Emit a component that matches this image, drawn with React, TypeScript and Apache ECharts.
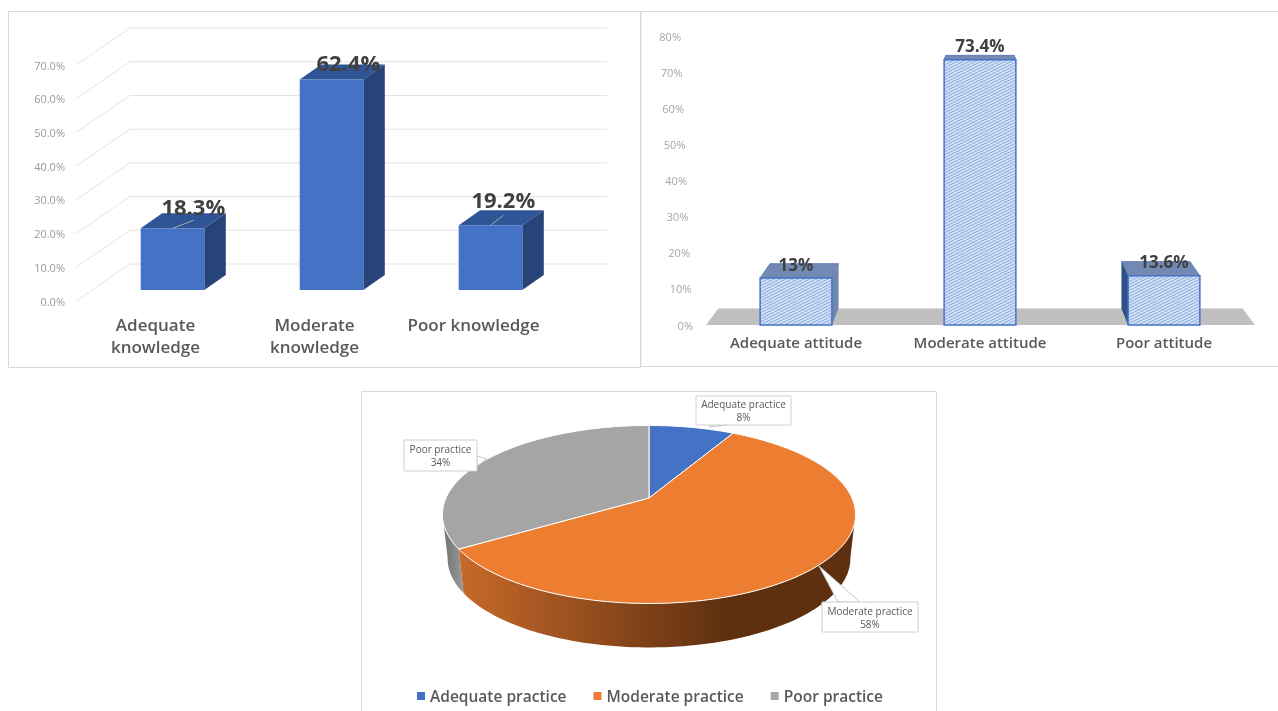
import React, { useEffect, useRef } from "react";
import * as echarts from "echarts";

const knowledgeCategories = ["Adequate\nknowledge", "Moderate\nknowledge", "Poor knowledge"];
const knowledgeValues = [18.3, 62.4, 19.2];
const knowledgeTicks = [0, 10, 20, 30, 40, 50, 60, 70];
const attitudeCategories = ["Adequate attitude", "Moderate attitude", "Poor attitude"];
const attitudeValues = [13, 73.4, 13.6];
const practiceCategories = ["Adequate practice", "Moderate practice", "Poor practice"];
const practiceValues = [8, 58, 34];
const practiceColors = ["#4472C4", "#ED7D31", "#A5A5A5"];

const FONT = "'Open Sans', sans-serif";
const TEXT = "#595959";

// knowledge chart: oblique 3D projection
const WALL_DX = 54;
const WALL_DY = -37;
const BAR_DX = 21.5;
const BAR_DY = -15;
const BAR_SHIFT_X = 17;
const BAR_RISE = 11;
const KNOWLEDGE_LABEL_OFFSET = [
  { dx: -11, dy: -22, leader: [21, -8] },
  { dx: -15, dy: -18, leader: null },
  { dx: -19, dy: -26, leader: [13, -10] },
];

// attitude chart: perspective towards a vanishing point
const VP = [980, -40];
const PERSP = 0.045;
const persp = (p: number[]) => [p[0] + PERSP * (VP[0] - p[0]), p[1] + PERSP * (VP[1] - p[1])];

// practice pie: projected disc
const PIE = { cx: 649, cy: 514.5, a: 203, b: 89, c: -16.5, p: 0.185, depth: 44, bottomScale: 0.975 };
const WALL_FROM = 100 / 360;
const WALL_TO = 260 / 360;
const CALLOUTS = [
  { box: [696, 396, 95, 29], tip: [709, 427], base: [[713, 425], [727, 425]] },
  { box: [822, 602, 96, 30], tip: [819, 566], base: [[838, 602], [860, 602]] },
  { box: [404, 440, 73, 31], tip: [487, 459], base: [[477, 456], [477, 466]] },
];

const project = (frac: number, lift = 0, scale = 1) => {
  const t = frac * Math.PI * 2;
  const u = Math.sin(t);
  const v = -Math.cos(t);
  const d = 1 - PIE.p * v;
  return [PIE.cx + (scale * PIE.a * u) / d, PIE.cy + (PIE.b * v + PIE.c) / d + lift];
};
const arc = (from: number, to: number, lift = 0, scale = 1) => {
  const n = Math.max(2, Math.ceil((to - from) * 240));
  const pts: number[][] = [];
  for (let i = 0; i <= n; i++) pts.push(project(from + ((to - from) * i) / n, lift, scale));
  return pts;
};

const makeHatch = () => {
  const c = document.createElement("canvas");
  c.width = 12;
  c.height = 6;
  const g = c.getContext("2d")!;
  g.fillStyle = "#d3e1f6";
  g.fillRect(0, 0, 12, 6);
  g.strokeStyle = "#86a8dc";
  g.lineWidth = 1;
  g.beginPath();
  for (let k = -12; k <= 24; k += 6) {
    g.moveTo(k, 6);
    g.lineTo(k + 12, 0);
  }
  g.stroke();
  return c;
};

const poly = (points: number[][], style: any) => ({ type: "polygon", shape: { points }, style });
const txt = (text: string, x: number, y: number, fontSize: number, fontWeight: any, fill: string, lineHeight?: number) => ({
  type: "text",
  style: { text, x, y, fontSize, fontWeight, fill, fontFamily: FONT, align: "center", verticalAlign: "middle", lineHeight },
});

const knowledgeWalls = (params: any, api: any) => {
  const v = api.value(0);
  const front = api.coord([0, v]);
  const grid = params.coordSys;
  const x0 = grid.x;
  const x1 = grid.x + grid.width;
  return {
    type: "group",
    children: [
      { type: "line", shape: { x1: x0, y1: front[1], x2: x0 + WALL_DX, y2: front[1] + WALL_DY }, style: { stroke: "#e3e3e3", lineWidth: 1 } },
      { type: "line", shape: { x1: x0 + WALL_DX, y1: front[1] + WALL_DY, x2: x1 + WALL_DX, y2: front[1] + WALL_DY }, style: { stroke: "#e3e3e3", lineWidth: 1 } },
    ],
  };
};

const knowledgeBar = (_: any, api: any) => {
  const i = api.value(0);
  const val = api.value(1);
  const w = api.size([1, 0])[0] * 0.4;
  const base = api.coord([i, 0]);
  const top = api.coord([i, val]);
  const l = base[0] + BAR_SHIFT_X - w / 2;
  const r = l + w;
  const yb = base[1] - BAR_RISE;
  const yt = top[1] - BAR_RISE;
  const o = KNOWLEDGE_LABEL_OFFSET[i];
  const children: any[] = [
    poly([[l, yt], [l + BAR_DX, yt + BAR_DY], [r + BAR_DX, yt + BAR_DY], [r, yt]], { fill: "#2F5597" }),
    poly([[r, yt], [r + BAR_DX, yt + BAR_DY], [r + BAR_DX, yb + BAR_DY], [r, yb]], { fill: "#264478" }),
    { type: "rect", shape: { x: l, y: yt, width: w, height: yb - yt }, style: { fill: "#4472C4" } },
  ];
  if (o.leader) {
    children.push({ type: "line", shape: { x1: l + w / 2, y1: yt, x2: l + w / 2 + o.leader[0], y2: yt + o.leader[1] }, style: { stroke: "#a9a9a9", lineWidth: 1 } });
  }
  children.push(txt(val + "%", r + o.dx, yt + o.dy, 22, 700, "#404040"));
  return { type: "group", children };
};

const attitudeFloor = (params: any, api: any) => {
  const grid = params.coordSys;
  const y = api.coord([0, 0])[1];
  const a = [grid.x + 2, y];
  const b = [grid.x + grid.width - 1, y];
  return poly([a, persp(a), persp(b), b], { fill: "#bfbfbf" });
};

const attitudeBar = (hatch: HTMLCanvasElement) => (_: any, api: any) => {
  const i = api.value(0);
  const val = api.value(1);
  const w = api.size([1, 0])[0] * 0.39;
  const base = api.coord([i, 0]);
  const top = api.coord([i, val]);
  const l = base[0] - w / 2;
  const r = l + w;
  const tl = [l, top[1]];
  const tr = [r, top[1]];
  const bl = [l, base[1]];
  const br = [r, base[1]];
  const children: any[] = [poly([tl, persp(tl), persp(tr), tr], { fill: "#7189b3", stroke: "#5f7fb5", lineWidth: 1 })];
  if (r < VP[0]) children.push(poly([tr, persp(tr), persp(br), br], { fill: "#6f87ae" }));
  if (l > VP[0]) children.push(poly([tl, persp(tl), persp(bl), bl], { fill: "#2f4f85" }));
  children.push({
    type: "rect",
    shape: { x: l, y: top[1], width: w, height: base[1] - top[1] },
    style: { fill: { image: hatch, repeat: "repeat" }, stroke: "#4472C4", lineWidth: 1.5 },
  });
  children.push(txt(val + "%", base[0], top[1] - 14, 17, 700, "#404040"));
  return { type: "group", children };
};

const total = practiceValues.reduce((a, b) => a + b, 0);
const sliceBounds = practiceValues.map((_, i) => {
  const from = practiceValues.slice(0, i).reduce((a, b) => a + b, 0) / total;
  return [from, from + practiceValues[i] / total];
});

const wallFill = (i: number) => {
  if (i === 1) {
    return new echarts.graphic.LinearGradient(0, 0, 1, 0, [
      { offset: 0, color: "#C7692A" },
      { offset: 0.67, color: "#5F3010" },
      { offset: 1, color: "#5F3010" },
    ]);
  }
  return new echarts.graphic.LinearGradient(0, 0, 1, 0, [
    { offset: 0, color: "#707070" },
    { offset: 1, color: "#9a9a9a" },
  ]);
};

const sliceWall = (i: number) => () => {
  const from = Math.max(sliceBounds[i][0], WALL_FROM);
  const to = Math.min(sliceBounds[i][1], WALL_TO);
  if (from >= to) return { type: "group", children: [] };
  const top = arc(from, to);
  const bottom = arc(from, to, PIE.depth, PIE.bottomScale).reverse();
  return poly([...top, ...bottom], { fill: wallFill(i) });
};

const sliceTop = (i: number) => () =>
  poly([[PIE.cx, PIE.cy + PIE.c], ...arc(sliceBounds[i][0], sliceBounds[i][1])], {
    fill: practiceColors[i],
    stroke: "#ffffff",
    lineWidth: 1,
  });

const sliceLabel = (i: number) => () => {
  const c = CALLOUTS[i];
  const [x, y, w, h] = c.box;
  return {
    type: "group",
    children: [
      poly([c.tip, ...c.base], { fill: "#ffffff", stroke: "#c8c8c8", lineWidth: 1 }),
      { type: "rect", shape: { x, y, width: w, height: h }, style: { fill: "#ffffff", stroke: "#d0d0d0", lineWidth: 1 } },
      txt(practiceCategories[i] + "\n" + practiceValues[i] + "%", x + w / 2, y + h / 2, 10, 400, TEXT, 13),
    ],
  };
};

const panel = (x: number, y: number, width: number, height: number) => ({
  type: "rect",
  shape: { x, y, width, height },
  style: { fill: "#ffffff", stroke: "#d9d9d9", lineWidth: 1 },
  silent: true,
});

export default function App() {
  const ref = useRef<HTMLDivElement>(null);
  useEffect(() => {
    const chart = echarts.init(ref.current!, null, { renderer: "svg" });
    const hatch = makeHatch();
    const hiddenCat = { axisLine: { show: false }, axisTick: { show: false } };
    chart.setOption({
      animation: false,
      backgroundColor: "#ffffff",
      graphic: [panel(8.5, 11.5, 632, 356), panel(641, 11.5, 660, 355), panel(361.5, 391.5, 575, 340)],
      grid: [
        { left: 76, top: 65, width: 477, height: 236 },
        { left: 704, top: 36, width: 552, height: 289 },
      ],
      xAxis: [
        {
          type: "category",
          gridIndex: 0,
          data: knowledgeCategories,
          ...hiddenCat,
          axisLabel: { interval: 0, margin: 12, fontSize: 17, fontWeight: 600, lineHeight: 22, color: TEXT, fontFamily: FONT },
        },
        {
          type: "category",
          gridIndex: 1,
          data: attitudeCategories,
          ...hiddenCat,
          axisLabel: { interval: 0, margin: 9, fontSize: 15, fontWeight: 600, color: TEXT, fontFamily: FONT },
        },
      ],
      yAxis: [
        {
          type: "value",
          gridIndex: 0,
          min: 0,
          max: 70,
          interval: 10,
          axisLine: { show: false },
          axisTick: { show: false },
          splitLine: { show: false },
          axisLabel: { margin: 11, fontSize: 11, color: "#9a9a9a", fontFamily: FONT, formatter: (v: number) => v.toFixed(1) + "%" },
        },
        {
          type: "value",
          gridIndex: 1,
          min: 0,
          max: 80,
          interval: 10,
          axisLine: { show: false },
          axisTick: { show: false },
          splitLine: { show: false },
          axisLabel: {
            margin: 11,
            fontSize: 11,
            color: "#a6a6a6",
            fontFamily: FONT,
            formatter: (v: number) => `{t${v}|${v}%}`,
            rich: Object.fromEntries(
              [0, 10, 20, 30, 40, 50, 60, 70, 80].map((t) => [`t${t}`, { padding: [0, (t / 10) * 1.5, 0, 0], fontSize: 11, color: "#a6a6a6", fontFamily: FONT }])
            ),
          },
        },
      ],
      legend: {
        left: 417,
        top: 688,
        padding: 0,
        icon: "rect",
        itemWidth: 8,
        itemHeight: 8,
        itemGap: 27,
        textStyle: { fontSize: 15.5, fontWeight: 600, color: TEXT, fontFamily: FONT },
        data: practiceCategories.map((name, i) => ({ name, itemStyle: { color: practiceColors[i] } })),
      },
      series: [
        { type: "custom", name: "walls", xAxisIndex: 0, yAxisIndex: 0, z: 1, data: knowledgeTicks.map((t) => [t]), encode: { y: 0 }, renderItem: knowledgeWalls },
        { type: "custom", name: "knowledge", xAxisIndex: 0, yAxisIndex: 0, z: 3, data: knowledgeValues.map((v, i) => [i, v]), encode: { x: 0, y: 1 }, renderItem: knowledgeBar },
        { type: "custom", name: "floor", xAxisIndex: 1, yAxisIndex: 1, z: 1, data: [[0]], encode: { y: 0 }, renderItem: attitudeFloor },
        { type: "custom", name: "attitude", xAxisIndex: 1, yAxisIndex: 1, z: 3, data: attitudeValues.map((v, i) => [i, v]), encode: { x: 0, y: 1 }, renderItem: attitudeBar(hatch) },
        ...practiceCategories.flatMap((name, i) => [
          { type: "custom", name: name + " side", coordinateSystem: "none", z: 2, data: [practiceValues[i]], renderItem: sliceWall(i) },
          { type: "custom", name, coordinateSystem: "none", z: 3, data: [practiceValues[i]], itemStyle: { color: practiceColors[i] }, renderItem: sliceTop(i) },
          { type: "custom", name: name + " label", coordinateSystem: "none", z: 4, data: [practiceValues[i]], renderItem: sliceLabel(i) },
        ]),
      ],
    });
    return () => chart.dispose();
  }, []);
  return <div ref={ref} style={{ position: "absolute", left: 0, top: 0, width: 1278, height: 711, filter: "blur(0.5px)" }} />;
}
